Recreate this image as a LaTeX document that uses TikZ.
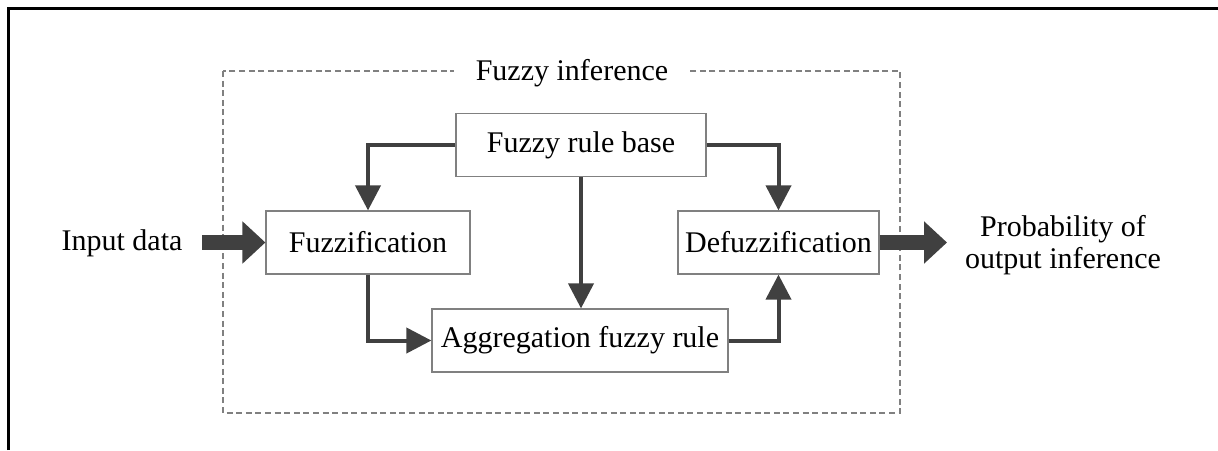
\documentclass[tikz,border=0pt]{standalone}
\usepackage{fontspec}
\setmainfont{Liberation Serif}
\usetikzlibrary{arrows.meta}

\definecolor{arrowgray}{HTML}{404040}
\definecolor{boxgray}{HTML}{808080}

\tikzset{every node/.style={font=\fontsize{15}{16}\selectfont},
        block/.style={draw=boxgray, line width=0.6pt, fill=white, minimum height=31.5pt, inner sep=0pt},
        flow/.style={draw=arrowgray, line width=2pt, -{Triangle[width=12.5pt, length=12.5pt]}},
        bigflow/.style={draw=arrowgray, line width=7.5pt, -{Triangle[width=20.5pt, length=11.5pt]}},
        groupline/.style={draw=boxgray, line width=0.6pt, dash pattern=on 3pt off 1.8pt}}

\begin{document}
\begin{tikzpicture}[x=0.5pt, y=-0.5pt]

\useasboundingbox (0,0) rectangle (1218,450);

% outer frame (only left and top edges show)
\draw[line width=1.5pt] (8.5,450) -- (8.5,8.5) -- (1218,8.5);

% dashed group
\draw[groupline] (223,71) rectangle (900,413);
\node[fill=white, inner xsep=11pt, inner ysep=1pt] (title) at (572,73) {Fuzzy inference};

% draw blocks
\node[block, minimum width=125pt] (base) at (581,145) {Fuzzy rule base};
\node[block, minimum width=102pt] (fuzz) at (368,242.5) {Fuzzification};
\node[block, minimum width=100.5pt] (defuzz) at (778.5,242.5) {Defuzzification};
\node[block, minimum width=148pt] (agg) at (580,340.5) {Aggregation fuzzy rule};

% input and output texts
\node (input) at (122,243) {Input data};
\node[align=center] (output) at (1063,245) {Probability of\\output inference};
\coordinate (inStart) at (202,242.5);
\coordinate (outEnd) at (947,242.5);

% draw connectors
\draw[flow] (base.west) -| (fuzz.north);
\draw[flow] (base.east) -| (defuzz.north);
\draw[flow] (base.south) -- (base.south |- agg.north);
\draw[flow] (fuzz.south) |- (agg.west);
\draw[flow] (agg.east) -| (defuzz.south);

\draw[bigflow] (inStart) -- (fuzz.west);
\draw[bigflow] (defuzz.east) -- (outEnd);

\end{tikzpicture}
\end{document}
